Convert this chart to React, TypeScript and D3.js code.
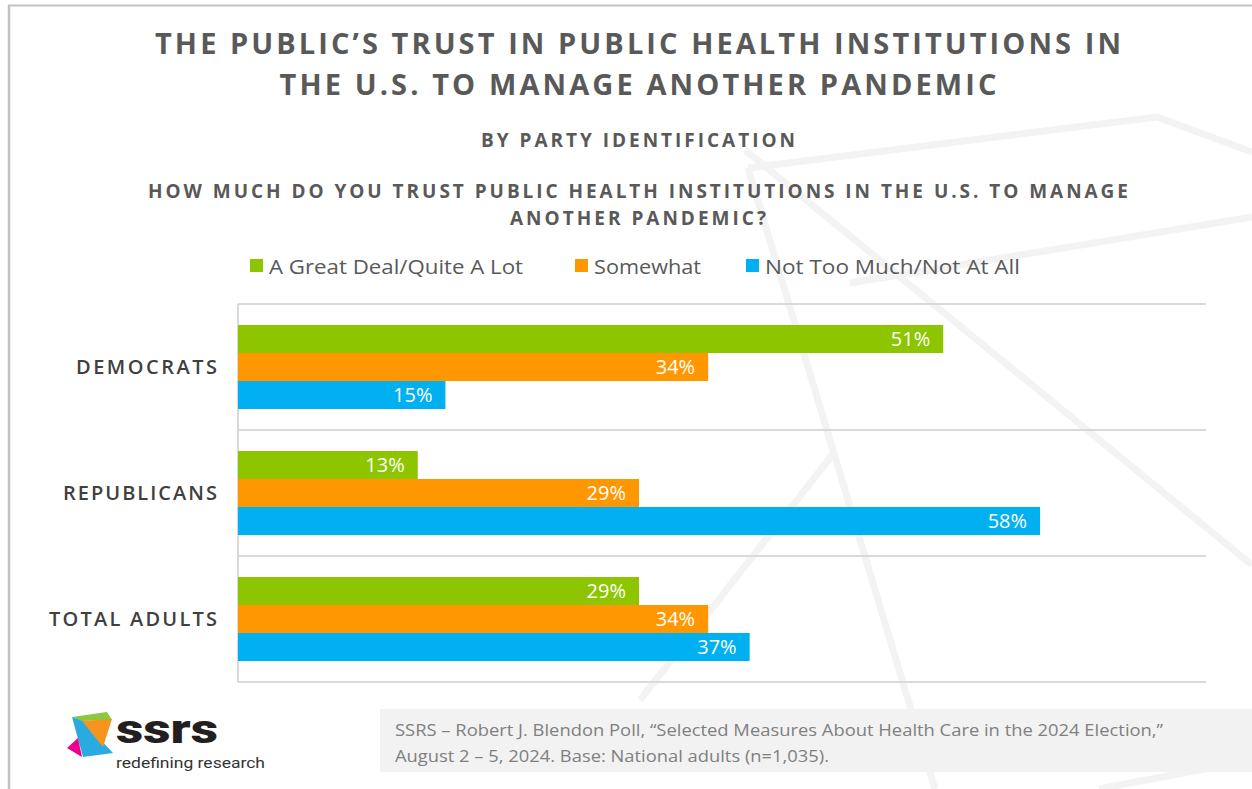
import React from 'react';
import * as d3 from 'd3';

// chart data
const categories = ['DEMOCRATS', 'REPUBLICANS', 'TOTAL ADULTS'];
const seriesNames = ['A Great Deal/Quite A Lot', 'Somewhat', 'Not Too Much/Not At All'];
const greatDeal = [51, 13, 29];
const somewhat = [34, 29, 34];
const notTooMuch = [15, 58, 37];
const seriesValues = [greatDeal, somewhat, notTooMuch];
const seriesColors = ['#8dc500', '#ff9800', '#00b0f0'];

const titleLines = [
  'THE PUBLIC\u2019S TRUST IN PUBLIC HEALTH INSTITUTIONS IN',
  'THE U.S. TO MANAGE ANOTHER PANDEMIC',
];
const subtitle = 'BY PARTY IDENTIFICATION';
const questionLines = [
  'HOW MUCH DO YOU TRUST PUBLIC HEALTH INSTITUTIONS IN THE U.S. TO MANAGE',
  'ANOTHER PANDEMIC?',
];
const sourceLines = [
  'SSRS \u2013 Robert J. Blendon Poll, \u201cSelected Measures About Health Care in the 2024 Election,\u201d',
  'August 2 \u2013 5, 2024. Base: National adults (n=1,035).',
];

const W = 1252;
const H = 789;
const FONT = "'Open Sans', 'Noto Sans', sans-serif";

// faint decorative background strokes
const decor = [
  [[748, 168], [1157, 117], [1252, 152]],
  [[748, 168], [935, 789]],
  [[833, 454], [640, 700]],
  [[745, 150], [1252, 565]],
  [[1252, 217], [850, 283]],
  [[1099, 789], [1252, 760]],
];

const App: React.FC = () => {
  const plot = { left: 238, right: 1206, top: 304, bottom: 682 };

  const x = d3.scaleLinear().domain([0, 70]).range([plot.left, plot.right]);
  const yGroup = d3.scaleBand<string>().domain(categories).range([plot.top, plot.bottom]);
  const yInner = d3
    .scaleBand<string>()
    .domain(seriesNames)
    .range([0, yGroup.bandwidth()])
    .paddingInner(0)
    .paddingOuter(0.75);

  const line = d3.line();
  const gridYs = [...categories.map(c => yGroup(c) as number), plot.bottom];

  const legendX = [250, 575, 746];
  const legendW = [254, 107, 255];
  const catW = [141, 154, 168];

  return (
    <div style={{ position: 'absolute', left: 0, top: 0 }}>
      <svg width={W} height={H} style={{ display: 'block', background: '#fff' }}>
        {/* background decoration */}
        {decor.map((pts, i) => (
          <path
            key={i}
            d={line(pts as [number, number][]) as string}
            fill="none"
            stroke="#f3f3f3"
            strokeWidth={7}
          />
        ))}

        {/* frame */}
        <line x1={9} y1={5} x2={9} y2={H} stroke="#c3c3c3" strokeWidth={2.5} />
        <line x1={8} y1={5.5} x2={W} y2={5.5} stroke="#c3c3c3" strokeWidth={2} />

        {/* titles */}
        {titleLines.map((t, i) => (
          <text
            key={t}
            x={638}
            y={54 + i * 41}
            textAnchor="middle"
            fontFamily={FONT}
            fontWeight={700}
            fontSize={29}
            fill="#595959"
            textLength={i === 0 ? 966 : 717}
            lengthAdjust="spacing"
          >
            {t}
          </text>
        ))}
        <text
          x={638}
          y={147}
          textAnchor="middle"
          fontFamily={FONT}
          fontWeight={700}
          fontSize={19}
          fill="#595959"
          textLength={314}
          lengthAdjust="spacing"
        >
          {subtitle}
        </text>
        {questionLines.map((t, i) => (
          <text
            key={t}
            x={638}
            y={198 + i * 27}
            textAnchor="middle"
            fontFamily={FONT}
            fontWeight={700}
            fontSize={19}
            fill="#595959"
            textLength={i === 0 ? 980 : 256}
            lengthAdjust="spacing"
          >
            {t}
          </text>
        ))}

        {/* legend */}
        {seriesNames.map((s, i) => (
          <g key={s}>
            <rect x={legendX[i]} y={259} width={13} height={13} fill={seriesColors[i]} />
            <text
              x={legendX[i] + 19}
              y={274}
              fontFamily={FONT}
              fontSize={20}
              fill="#595959"
              textLength={legendW[i]}
              lengthAdjust="spacingAndGlyphs"
            >
              {s}
            </text>
          </g>
        ))}

        {/* gridlines */}
        {gridYs.map((gy, i) => (
          <line key={i} x1={plot.left} x2={plot.right} y1={gy} y2={gy} stroke="#d9d9d9" strokeWidth={2} />
        ))}
        <line x1={plot.left} x2={plot.left} y1={plot.top} y2={plot.bottom} stroke="#d9d9d9" strokeWidth={2} />

        {/* bars */}
        {categories.map((c, ci) => (
          <g key={c} transform={`translate(0, ${yGroup(c)})`}>
            {seriesNames.map((s, si) => {
              const v = seriesValues[si][ci];
              const by = yInner(s) as number;
              const bh = yInner.bandwidth();
              return (
                <g key={s}>
                  <rect x={x(0)} y={by} width={x(v) - x(0)} height={bh} fill={seriesColors[si]} />
                  <text
                    x={x(v) - 13}
                    y={by + bh / 2 + 7}
                    textAnchor="end"
                    fontFamily={FONT}
                    fontSize={20}
                    fill="#fff"
                  >
                    {v}%
                  </text>
                </g>
              );
            })}
          </g>
        ))}

        {/* category labels */}
        {categories.map((c, i) => (
          <text
            key={c}
            x={217}
            y={(yGroup(c) as number) + yGroup.bandwidth() / 2 + 7}
            textAnchor="end"
            fontFamily={FONT}
            fontWeight={600}
            fontSize={20}
            fill="#404040"
            textLength={catW[i]}
            lengthAdjust="spacing"
          >
            {c}
          </text>
        ))}

        {/* source box */}
        <rect x={380} y={709} width={W - 380} height={63} fill="#f2f2f2" />
        {sourceLines.map((t, i) => (
          <text
            key={t}
            x={395}
            y={736 + i * 26}
            fontFamily={FONT}
            fontSize={17}
            fill="#808080"
            textLength={i === 0 ? 768 : 434}
            lengthAdjust="spacingAndGlyphs"
          >
            {t}
          </text>
        ))}

        {/* logo */}
        <g>
          <polygon points="72,717 107,712 112,720 82,721" fill="#8dc63f" />
          <polygon points="72,717 83,721 113,753 83,757" fill="#29abe2" />
          <polygon points="82,721 112,719 103,747" fill="#f7941d" />
          <polygon points="67,748 78,738 82,757" fill="#ec008c" />
          <text
            x={116}
            y={743}
            fontFamily="Roboto, 'Open Sans', sans-serif"
            fontWeight={900}
            fontSize={40}
            fill="#231f20"
            textLength={102}
            lengthAdjust="spacingAndGlyphs"
          >
            ssrs
          </text>
          <text
            x={116}
            y={768}
            fontFamily="Roboto, 'Open Sans', sans-serif"
            fontSize={15}
            fill="#333"
            textLength={149}
            lengthAdjust="spacingAndGlyphs"
          >
            redefining research
          </text>
        </g>
      </svg>
    </div>
  );
};

export default App;
